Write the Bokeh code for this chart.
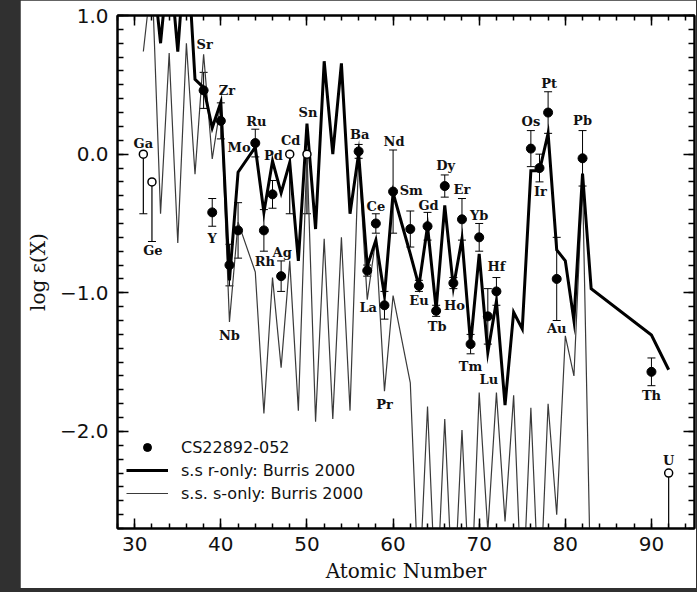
from bokeh.plotting import figure
from bokeh.models import (ColumnDataSource, Whisker, TeeHead, LinearAxis, SingleIntervalTicker,
                          CustomJSTickFormatter, Legend, LegendItem)
from bokeh.layouts import column
from bokeh.core.properties import value
from bokeh.embed import file_html
from bokeh.resources import INLINE

# ---- data ----
# solar-system r-only abundances (scaled), Burris 2000
r_z = [31, 32, 33, 34, 35, 36, 37, 38, 39, 40, 41, 42, 44, 45, 46, 47, 48, 49, 50,
       51, 52, 53, 54, 55, 56, 57, 58, 59, 60, 62, 63, 64, 65, 66, 67, 68, 69, 70,
       71, 72, 73, 74, 75, 76, 77, 78, 79, 80, 81, 82, 83, 90, 92]
r_val = [1.5, 1.4, 0.80, 1.45, 0.74, 1.6, 0.54, 0.48, 0.19, 0.375, -0.91, -0.13, 0.05,
         -0.42, -0.05, -0.28, -0.06, -0.77, 0.22, -0.54, 0.67, 0.0, 0.655, -0.43, 0.005,
         -0.81, -0.62, -1.02, -0.28, -0.72, -0.95, -0.52, -1.12, -0.37, -0.96, -0.61,
         -1.37, -0.72, -1.43, -1.06, -1.81, -1.14, -1.26, -0.12, -0.12, 0.15, -0.69,
         -0.77, -1.20, -0.14, -0.97, -1.305, -1.555]

# solar-system s-only abundances (scaled), Burris 2000
s_z = [31, 32, 33, 34, 35, 36, 37, 38, 39, 40, 41, 42, 44, 45, 46, 47, 48, 49, 50,
       51, 52, 53, 54, 55, 56, 57, 58, 59, 60, 62, 63, 64, 65, 66, 67, 68, 69, 70,
       71, 72, 73, 74, 75, 76, 77, 78, 79, 80, 81, 82, 83]
s_val = [0.74, 1.3, -0.43, 0.73, -0.64, 0.80, -0.145, 0.72, -0.035, 0.37, -1.21, -0.49,
         -0.85, -1.87, -0.89, -1.54, -0.77, -1.85, 0.02, -1.93, -0.61, -1.91, -0.60,
         -1.85, -0.02, -1.05, -0.61, -1.71, -1.02, -1.65, -3.2, -1.82, -3.3, -1.91,
         -3.3, -1.99, -3.3, -1.72, -2.72, -1.72, -2.65, -1.74, -3.3, -1.83, -3.3,
         -1.80, -2.60, -1.31, -1.60, -0.20, -3.3]

# CS22892-052 detections
obs_el = ["Sr", "Y", "Zr", "Nb", "Mo", "Ru", "Rh", "Pd", "Ag", "Ba", "La", "Ce", "Pr",
          "Nd", "Sm", "Eu", "Gd", "Tb", "Dy", "Ho", "Er", "Tm", "Yb", "Lu", "Hf", "Os",
          "Ir", "Pt", "Au", "Pb", "Th"]
obs_z = [38, 39, 40, 41, 42, 44, 45, 46, 47, 56, 57, 58, 59, 60, 62, 63, 64, 65, 66,
         67, 68, 69, 70, 71, 72, 76, 77, 78, 79, 82, 90]
obs_val = [0.46, -0.42, 0.24, -0.80, -0.55, 0.08, -0.55, -0.29, -0.88, 0.02, -0.84,
           -0.50, -1.09, -0.27, -0.54, -0.95, -0.52, -1.13, -0.23, -0.93, -0.47, -1.37,
           -0.60, -1.17, -0.99, 0.04, -0.10, 0.30, -0.90, -0.03, -1.57]
obs_err = [0.13, 0.10, 0.13, 0.15, 0.20, 0.10, 0.15, 0.10, 0.11, 0.05, 0.04, 0.07, 0.10,
           0.30, 0.13, 0.04, 0.10, 0.04, 0.08, 0.04, 0.15, 0.07, 0.10, 0.20, 0.10, 0.13,
           0.10, 0.15, 0.30, 0.20, 0.10]

# open symbols (limits)
lim_el = ["Ga", "Ge", "Cd", "Sn", "U"]
lim_z = [31, 32, 48, 50, 92]
lim_val = [0.0, -0.20, 0.0, 0.0, -2.30]
lim_drop = [0.43, 0.43, 0.43, 0.43, 0.43]

# label placement (screen-pixel offsets from each point)
obs_dx = [1, 0, 6, 0, 1, 1, 1, 1, 1, 1, 1, 0, 0, 1, 1, 0, 1, 1, 1, 1, 0, 0, 0, 1, 0, 0,
          1, 1, 0, 0, 0]
obs_dy = [-46, 26, -30, 70, -83, -22, 31, -39, -24, -17, 37, -17, 99, -50, -39, 15,
          -21, 16, -21, 22, -30, 22, -22, 63, -25, -27, 23, -29, 50, -38, 24]
lim_dx = [0, 1, 1, 1, 0]
lim_dy = [-11, 69, -14, -42, -13]

# ---- figure ----
p = figure(width=676, height=588, x_range=(28, 95), y_range=(-2.7, 1.0),
           output_backend="svg", toolbar_location=None,
           min_border_left=97, min_border_right=2, min_border_top=15, min_border_bottom=60)
p.margin = (0, 1, 4, 20)
p.background_fill_color = "white"
p.border_fill_color = "white"
p.xgrid.visible = False
p.ygrid.visible = False
p.outline_line_color = "black"
p.outline_line_width = 2

xt = SingleIntervalTicker(interval=10, num_minor_ticks=5)
yt = SingleIntervalTicker(interval=1, num_minor_ticks=10)

xa = p.xaxis[0]
xa.ticker = xt
xa.axis_label = "Atomic Number"
xa.axis_label_text_font = "DejaVu Serif"
xa.axis_label_text_font_size = "20px"
xa.axis_label_text_font_style = "normal"
xa.axis_label_standoff = 5
xa.major_label_text_font = "DejaVu Sans"
xa.major_label_text_font_size = "20px"
xa.major_label_standoff = 8

ya = p.yaxis[0]
ya.ticker = yt
ya.axis_label = "log ε(X)"
ya.axis_label_text_font = "DejaVu Serif"
ya.axis_label_text_font_size = "20px"
ya.axis_label_text_font_style = "normal"
ya.axis_label_standoff = 7
ya.major_label_text_font = "DejaVu Sans"
ya.major_label_text_font_size = "20px"
ya.major_label_standoff = 9
ya.formatter = CustomJSTickFormatter(code="return tick.toFixed(1).replace('-', '\u2212');")

for ax, major, minor in ((xa, 10, 5), (ya, 11, 6)):
    ax.major_tick_in = major
    ax.major_tick_out = 0
    ax.minor_tick_in = minor
    ax.minor_tick_out = 0
    ax.axis_line_width = 2
    ax.major_tick_line_width = 1.5
    ax.minor_tick_line_width = 1.5
    ax.major_label_text_color = "#111111"
    ax.axis_label_text_color = "#111111"

blank = CustomJSTickFormatter(code="return '';")
top = LinearAxis(ticker=SingleIntervalTicker(interval=10, num_minor_ticks=5),
                 formatter=blank, major_label_text_font_size="1px", major_label_standoff=0,
                 major_tick_in=10, major_tick_out=0, minor_tick_in=5, minor_tick_out=0,
                 axis_line_width=2, major_tick_line_width=1.5, minor_tick_line_width=1.5)
p.add_layout(top, "above")
right = LinearAxis(ticker=SingleIntervalTicker(interval=1, num_minor_ticks=10),
                   formatter=blank, major_label_text_font_size="1px", major_label_standoff=0,
                   major_tick_in=11, major_tick_out=0, minor_tick_in=6, minor_tick_out=0,
                   axis_line_width=2, major_tick_line_width=1.5, minor_tick_line_width=1.5)
p.add_layout(right, "right")

# ---- curves ----
s_line = p.line(s_z, s_val, line_color="#3a3a3a", line_width=1.2)
r_line = p.line(r_z, r_val, line_color="black", line_width=3, line_join="miter")

# ---- observed points with error bars ----
obs_src = ColumnDataSource(dict(
    z=obs_z, v=obs_val,
    up=[a + b for a, b in zip(obs_val, obs_err)],
    lo=[a - b for a, b in zip(obs_val, obs_err)],
    el=obs_el, dx=obs_dx, dy=obs_dy))
p.add_layout(Whisker(base="z", upper="up", lower="lo", source=obs_src,
                     line_color="black", line_width=1,
                     upper_head=TeeHead(size=8, line_width=1, line_color="black"),
                     lower_head=TeeHead(size=8, line_width=1, line_color="black")))

lim_src = ColumnDataSource(dict(
    z=lim_z, v=lim_val,
    lo=[a - b for a, b in zip(lim_val, lim_drop)],
    el=lim_el, dx=lim_dx, dy=lim_dy))
p.add_layout(Whisker(base="z", upper="v", lower="lo", source=lim_src,
                     line_color="black", line_width=1.2,
                     upper_head=None,
                     lower_head=TeeHead(size=8, line_width=1.2, line_color="black")))

dots = p.scatter("z", "v", source=obs_src, size=9, marker="circle",
                 fill_color="black", line_color="black")
p.scatter("z", "v", source=lim_src, size=8, marker="circle",
          fill_color="white", line_color="black", line_width=1.5)

# ---- element labels ----
for src in (obs_src, lim_src):
    p.text("z", "v", text="el", source=src, x_offset="dx", y_offset="dy",
           text_font=value("DejaVu Serif"), text_font_style="bold",
           text_font_size="13px", text_align="center", text_baseline="middle",
           text_color="#111111")

# ---- legend ----
legend = Legend(items=[
    LegendItem(label="CS22892-052", renderers=[dots]),
    LegendItem(label="s.s r-only: Burris 2000", renderers=[r_line]),
    LegendItem(label="s.s. s-only: Burris 2000", renderers=[s_line]),
], location=(9, 25), border_line_color=None, background_fill_alpha=0,
    label_text_font="DejaVu Sans", label_text_font_size="16px",
    label_text_color="#111111",
    glyph_width=42, glyph_height=20, label_height=20, label_standoff=13,
    spacing=3, padding=0, margin=0)
p.add_layout(legend, "center")

lay = column(p, width=697, height=592, styles={"background-color": "#303030"})
open("out.html", "w").write(file_html(lay, INLINE))
